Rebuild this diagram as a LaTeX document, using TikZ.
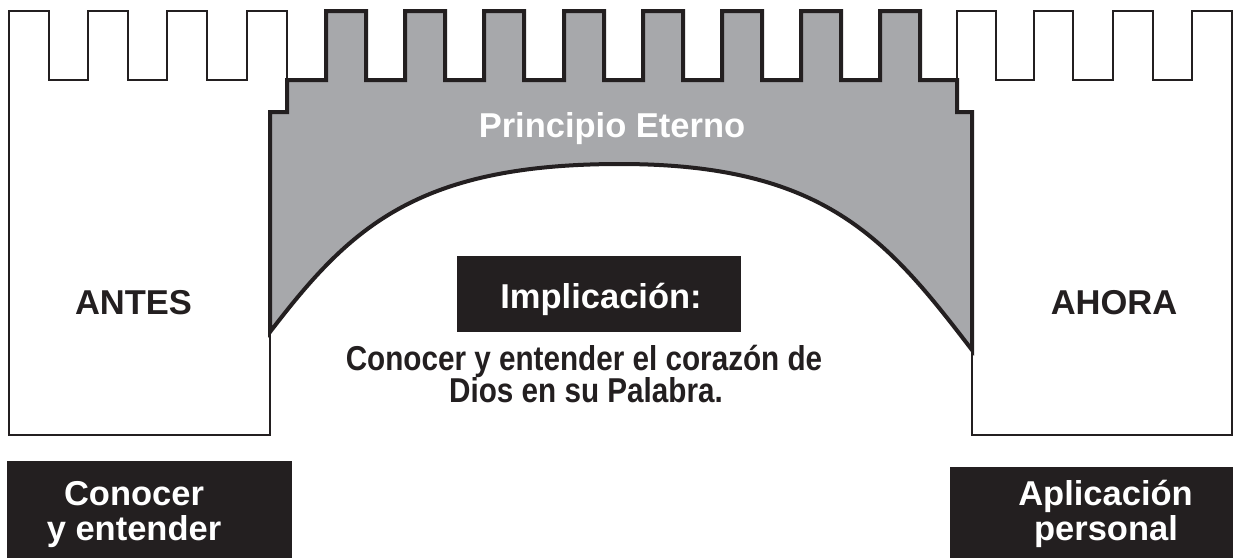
\documentclass[tikz,border=0pt]{standalone}
\usepackage{fontspec}
\usepackage{graphicx}
\setmainfont{Liberation Sans}
\definecolor{ink}{HTML}{231F20}
\definecolor{archgray}{HTML}{A7A8AB}
\tikzset{
  wall/.style={fill=white, draw=ink, line width=1.5pt, line join=miter},
  arch/.style={fill=archgray, draw=ink, line width=4pt, line join=miter},
  lbl/.style={font=\fontsize{34.5}{36}\selectfont\bfseries, inner sep=0pt, anchor=base, text=ink},
  whitelbl/.style={lbl, text=white},
  darkbox/.style={fill=ink, draw=none, inner sep=0pt, anchor=north west}
}
\begin{document}
\begin{tikzpicture}[x=1pt,y=-1pt]
\useasboundingbox (0,0) rectangle (1233,558);
% left wall
\draw[wall] (9,435) -- (9,11) -- (49,11) -- (49,80) -- (88,80) -- (88,11)
  -- (128,11) -- (128,80) -- (167,80) -- (167,11) -- (207,11) -- (207,80)
  -- (247,80) -- (247,11) -- (287,11) -- (287,112) -- (270,112) -- (270,435) -- cycle;
% right wall
\draw[wall] (972,435) -- (972,112) -- (957,112) -- (957,11) -- (996,11) -- (996,80)
  -- (1034,80) -- (1034,11) -- (1073,11) -- (1073,80) -- (1113,80) -- (1113,11)
  -- (1153,11) -- (1153,80) -- (1192,80) -- (1192,11) -- (1232,11) -- (1232,435) -- cycle;
% arch
\draw[arch] (620,164) .. controls (415,164) and (349,229) .. (270,332)
  -- (270,112) -- (287,112) -- (287,80)
  -- (326,80) -- (326,11) -- (366,11) -- (366,80)
  -- (405,80) -- (405,11) -- (445,11) -- (445,80)
  -- (484,80) -- (484,11) -- (524,11) -- (524,80)
  -- (564,80) -- (564,11) -- (604,11) -- (604,80)
  -- (643,80) -- (643,11) -- (683,11) -- (683,80)
  -- (722,80) -- (722,11) -- (762,11) -- (762,80)
  -- (801,80) -- (801,11) -- (841,11) -- (841,80)
  -- (880,80) -- (880,11) -- (920,11) -- (920,80)
  -- (957,80) -- (957,112) -- (972,112) -- (972,350)
  .. controls (887,239) and (825,164) .. (620,164) -- cycle;
% labels
\node[whitelbl] (principio) at (612,137) {Principio Eterno};
\node[lbl] (antes) at (133.5,314) {ANTES};
\node[lbl] (ahora) at (1114,314) {AHORA};
\node[darkbox, minimum width=284pt, minimum height=76pt] (implbox) at (457,256) {};
\node[whitelbl] (impl) at (601,308) {Implicación:};
\node[lbl] (texto1) at (584,370) {\scalebox{0.86}[1]{Conocer y entender el corazón de}};
\node[lbl] (texto2) at (586,402) {\scalebox{0.86}[1]{Dios en su Palabra.}};
% bottom boxes
\node[darkbox, minimum width=285pt, minimum height=97pt] (boxL) at (7,461) {};
\node[whitelbl] (conocer1) at (134,505) {Conocer};
\node[whitelbl] (conocer2) at (134,540) {y entender};
\node[darkbox, minimum width=283pt, minimum height=91pt] (boxR) at (950,467) {};
\node[whitelbl] (aplic1) at (1105.5,505) {Aplicación};
\node[whitelbl] (aplic2) at (1106,540) {personal};
\end{tikzpicture}
\end{document}
